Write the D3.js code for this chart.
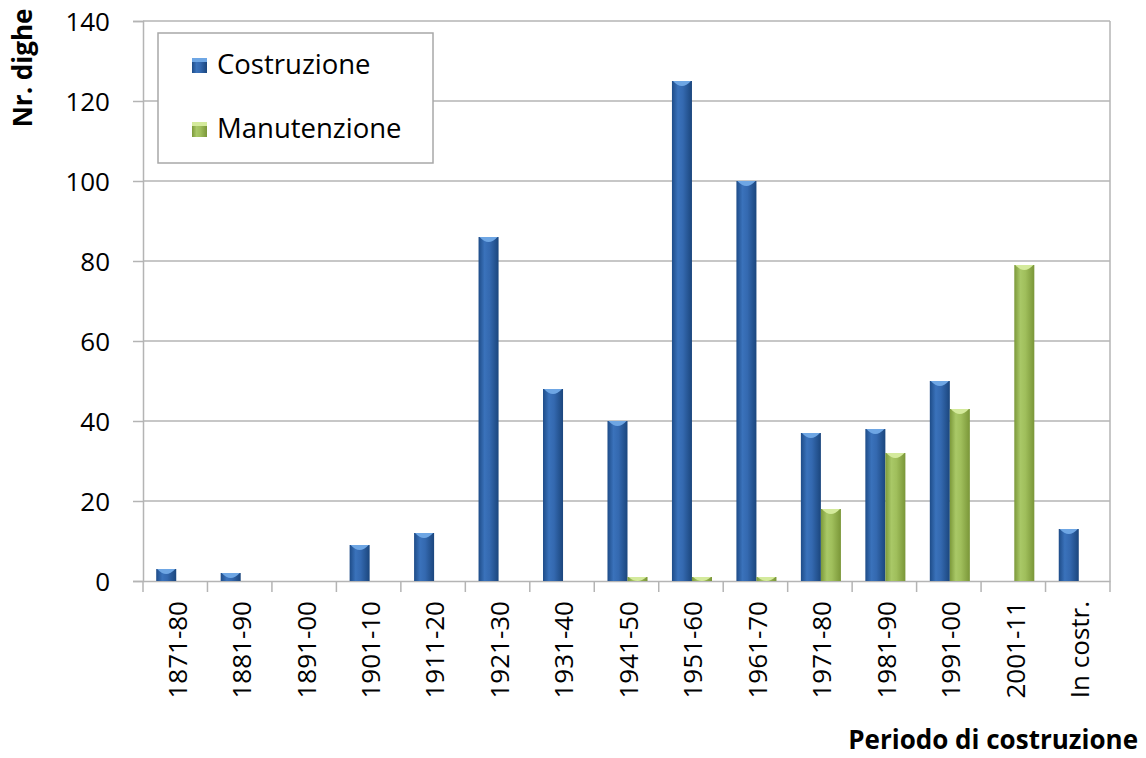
<!DOCTYPE html>
<html>
<head>
<meta charset="utf-8">
<script src="https://cdn.jsdelivr.net/npm/d3@7"></script>
<style>
  body { margin: 0; background: #fff; }
  text { font-family: "Open Sans", "DejaVu Sans", sans-serif; fill: #000; }
</style>
</head>
<body>
<svg id="chart" width="1146" height="758"></svg>
<script>
// periods on the x axis
const periods = ["1871-80", "1881-90", "1891-00", "1901-10", "1911-20", "1921-30", "1931-40",
  "1941-50", "1951-60", "1961-70", "1971-80", "1981-90", "1991-00", "2001-11", "In costr."];
// number of dams per period
const costruzione  = [3, 2, 0, 9, 12, 86, 48, 40, 125, 100, 37, 38, 50, 0, 13];
const manutenzione = [0, 0, 0, 0, 0, 0, 0, 1, 1, 1, 18, 32, 43, 79, 0];
const seriesNames = ["Costruzione", "Manutenzione"];
const yTicks = [0, 20, 40, 60, 80, 100, 120, 140];

const svg = d3.select("#chart");
const plotLeft = 143, plotRight = 1110, plotTop = 21, plotBottom = 581;
const grey = "#b4b4b4";

// gradients for the cylinder look
const defs = svg.append("defs");
function grad(id, stops) {
	let g = defs.append("linearGradient").attr("id", id)
		.attr("x1", "0%").attr("x2", "100%").attr("y1", "0%").attr("y2", "0%");
	stops.forEach(s => g.append("stop").attr("offset", s[0]).attr("stop-color", s[1]));
}
grad("gBlue", [["0%", "#1e4c88"], ["30%", "#3a72bb"], ["55%", "#3469b0"], ["100%", "#1b467d"]]);
grad("gGreen", [["0%", "#7c993a"], ["30%", "#a9c867"], ["55%", "#a0bf5c"], ["100%", "#7a9638"]]);
const fills = ["url(#gBlue)", "url(#gGreen)"];
const caps = ["#6ea6e4", "#d4ea9c"];

let y = d3.scaleLinear().domain([0, 140]).range([plotBottom, plotTop]);
let x0 = d3.scaleBand().domain(periods).range([plotLeft, plotRight]).paddingInner(0).paddingOuter(0);
let x1 = d3.scaleBand().domain(seriesNames).range([0, x0.bandwidth()]).paddingInner(0).paddingOuter(0.61);

// gridlines
svg.append("g").selectAll("line")
	.data(yTicks.filter(d => d > 0))
	.enter().append("line")
	.attr("x1", plotLeft).attr("x2", plotRight)
	.attr("y1", d => y(d)).attr("y2", d => y(d))
	.attr("stroke", grey).attr("stroke-width", 1.5);

// right border
svg.append("line").attr("x1", plotRight).attr("x2", plotRight).attr("y1", plotTop).attr("y2", plotBottom)
	.attr("stroke", grey).attr("stroke-width", 1.5);

// y axis
let yAxis = d3.axisLeft(y).tickValues(yTicks).tickSize(10).tickPadding(23);
let gy = svg.append("g").attr("transform", "translate(" + plotLeft + ",0)").call(yAxis);
gy.selectAll("path, line").attr("stroke", grey).attr("stroke-width", 1.5);
gy.selectAll("text").style("font-size", "26px").attr("font-family", null).attr("dy", "0.36em");

// x axis
let xAxis = d3.axisBottom(x0).tickSize(0).tickPadding(0);
let gx = svg.append("g").attr("transform", "translate(0," + plotBottom + ")").call(xAxis);
gx.select("path").attr("stroke", grey).attr("stroke-width", 1.5);
gx.selectAll("text")
	.style("font-size", "26px").attr("font-family", null)
	.attr("transform", "rotate(-90)")
	.attr("text-anchor", "end")
	.attr("x", -20).attr("y", 2).attr("dy", "0.36em");

// boundary ticks on x axis
let bounds = periods.map(p => x0(p)).concat([plotRight]);
svg.append("g").selectAll("line")
	.data(bounds)
	.enter().append("line")
	.attr("x1", d => d).attr("x2", d => d)
	.attr("y1", plotBottom).attr("y2", plotBottom + 11)
	.attr("stroke", grey).attr("stroke-width", 1.5);

// bars
let rows = periods.map((p, i) => ({ p: p, vals: [costruzione[i], manutenzione[i]] }));
let groups = svg.append("g").selectAll("g")
	.data(rows)
	.enter().append("g")
	.attr("transform", d => "translate(" + (x0(d.p) + 1) + ",0)");

seriesNames.forEach(function (name, k) {
	let sel = groups.filter(d => d.vals[k] > 0);
	sel.append("rect")
		.attr("x", x1(name))
		.attr("y", d => y(d.vals[k]))
		.attr("width", x1.bandwidth())
		.attr("height", d => y(0) - y(d.vals[k]))
		.attr("fill", fills[k]);
	// lighter top cap
	sel.append("path")
		.attr("d", function (d) {
			let xa = x1(name) + 1, xb = x1(name) + x1.bandwidth() - 1, yt = y(d.vals[k]);
			let h = Math.min(5, y(0) - yt);
			return "M" + xa + "," + yt + " L" + xb + "," + yt +
				" Q" + (xa + xb) / 2 + "," + (yt + 2 * h) + " " + xa + "," + yt + "Z";
		})
		.attr("fill", caps[k]);
});

// legend
svg.append("rect").attr("x", 158).attr("y", 33).attr("width", 275).attr("height", 130)
	.attr("fill", "#fff").attr("stroke", "#a8a8a8").attr("stroke-width", 1.5);
let legendY = [58, 122];
seriesNames.forEach(function (name, k) {
	svg.append("rect").attr("x", 192).attr("y", legendY[k]).attr("width", 15).attr("height", 15)
		.attr("fill", fills[k]);
	svg.append("rect").attr("x", 192).attr("y", legendY[k]).attr("width", 15).attr("height", 4)
		.attr("fill", caps[k]);
	svg.append("text").attr("x", 217).attr("y", legendY[k] + 16)
		.style("font-size", "27.5px").text(name);
});

// axis titles
svg.append("text")
	.attr("transform", "translate(32,68) rotate(-90)")
	.attr("text-anchor", "middle")
	.style("font-size", "26px").style("font-weight", "bold")
	.text("Nr. dighe");

svg.append("text")
	.attr("x", 1138).attr("y", 749)
	.attr("text-anchor", "end")
	.style("font-size", "26px").style("font-weight", "bold")
	.text("Periodo di costruzione");
</script>
</body>
</html>
